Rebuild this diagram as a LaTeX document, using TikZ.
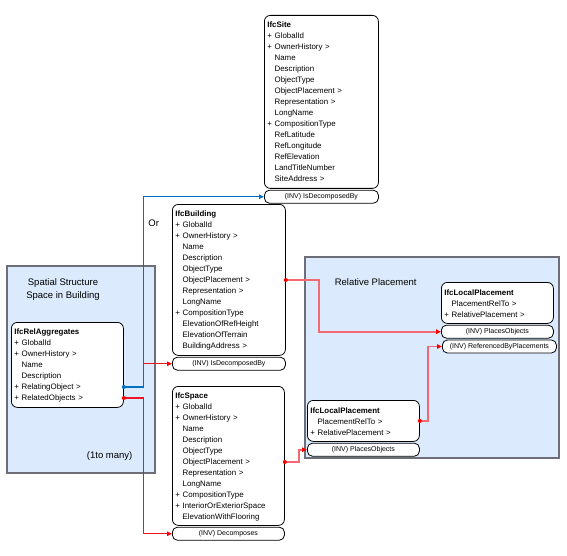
\documentclass[tikz,border=0pt]{standalone}
\usepackage{fontspec}
\setmainfont{Liberation Sans}
\usetikzlibrary{arrows.meta,positioning}

\definecolor{zonefill}{RGB}{219,234,252}
\definecolor{zoneline}{RGB}{110,110,120}
\definecolor{linkred}{RGB}{240,20,30}
\definecolor{linkpink}{RGB}{242,105,115}
\definecolor{linkblue}{RGB}{0,112,192}

\newcommand{\ind}{\phantom{+ }}

\tikzset{
  ent/.style={draw, line width=0.8pt, rounded corners=6pt, fill=white, anchor=north west, align=left,
    inner xsep=3pt, inner ysep=0pt, text height=12pt,
    font=\fontsize{7.9}{11}\selectfont},
  inv/.style={draw, line width=0.8pt, rounded corners=5pt, fill=white, anchor=north west, inner sep=0pt,
    minimum height=13pt, font=\fontsize{7}{8}\selectfont},
  zone/.style={draw=zoneline, line width=1.2pt, fill=zonefill},
  lbl/.style={font=\fontsize{9.5}{13}\selectfont, align=center},
  tip/.style={-{Triangle[length=5pt,width=4.5pt,color=red]}},
  rel/.style={draw=linkred, line width=1.2pt, tip},
  plc/.style={draw=linkpink, line width=1.7pt, tip},
  blueln/.style={draw=linkblue, line width=1.2pt, -{Triangle[length=5pt,width=4.5pt]}}
}

\begin{document}
\begin{tikzpicture}[x=1pt, y=-1pt]
    \useasboundingbox (0,0) rectangle (567,556);

    % grouping areas
    \draw[zone] (7,266) rectangle (155,473);
    \draw[zone] (305,257) rectangle (559,458);
    \node[lbl] (spatial) at (63,289.5) { Spatial Structure\\Space in Building };
    \node[lbl] (relplace) at (377,282) { Relative Placement };
    \node[lbl] (ortext) at (155,223) { Or };
    \node[lbl] (many) at (111,456) { (1to many) };

    % entities
    \node[ent, text width=108pt, text depth=161pt] (site) at (264,15) {
        \textbf{IfcSite}\\
        + GlobalId\\
        + OwnerHistory >\\
        \ind Name\\
        \ind Description\\
        \ind ObjectType\\
        \ind ObjectPlacement >\\
        \ind Representation >\\
        \ind LongName\\
        + CompositionType\\
        \ind RefLatitude\\
        \ind RefLongitude\\
        \ind RefElevation\\
        \ind LandTitleNumber\\
        \ind SiteAddress > };
    \node[inv, minimum width=114pt] (siteinv) at ([yshift=-1]site.south west) { (INV) IsDecomposedBy };

    \node[ent, text width=107pt, text depth=139pt] (bldg) at (172,204) {
        \textbf{IfcBuilding}\\
        + GlobalId\\
        + OwnerHistory >\\
        \ind Name\\
        \ind Description\\
        \ind ObjectType\\
        \ind ObjectPlacement >\\
        \ind Representation >\\
        \ind LongName\\
        + CompositionType\\
        \ind ElevationOfRefHeight\\
        \ind ElevationOfTerrain\\
        \ind BuildingAddress > };
    \node[inv, minimum width=113pt] (bldginv) at ([yshift=-1]bldg.south west) { (INV) IsDecomposedBy };

    \node[ent, text width=106pt, text depth=127pt] (space) at (172,386) {
        \textbf{IfcSpace}\\
        + GlobalId\\
        + OwnerHistory >\\
        \ind Name\\
        \ind Description\\
        \ind ObjectType\\
        \ind ObjectPlacement >\\
        \ind Representation >\\
        \ind LongName\\
        + CompositionType\\
        + InteriorOrExteriorSpace\\
        \ind ElevationWithFlooring };
    \node[inv, minimum width=112pt] (spaceinv) at ([yshift=-1]space.south west) { (INV) Decomposes };

    \node[ent, text width=106pt, text depth=73pt] (rel) at (11,322) {
        \textbf{IfcRelAggregates}\\
        + GlobalId\\
        + OwnerHistory >\\
        \ind Name\\
        \ind Description\\
        + RelatingObject >\\
        + RelatedObjects > };

    \node[ent, text width=106pt, text height=13pt, text depth=28pt] (lp1) at (441,282) {
        \textbf{IfcLocalPlacement}\\
        \ind PlacementRelTo >\\
        + RelativePlacement > };
    \node[inv, minimum width=112pt] (lp1inv) at ([yshift=-1]lp1.south west) { (INV) PlacesObjects };
    \node[inv, minimum width=114pt] (lp1ref) at ([xshift=1, yshift=-1]lp1inv.south west) { (INV) ReferencedByPlacements };

    \node[ent, text width=106pt, text height=13pt, text depth=28pt] (lp2) at (307,400) {
        \textbf{IfcLocalPlacement}\\
        \ind PlacementRelTo >\\
        + RelativePlacement > };
    \node[inv, minimum width=112pt] (lp2inv) at ([yshift=-1]lp2.south west) { (INV) PlacesObjects };

    % connector start points
    \coordinate (relto) at ([yshift=-65]rel.north east);
    \coordinate (relobjs) at ([yshift=-76]rel.north east);
    \coordinate (bldgop) at ([yshift=-76]bldg.north east);
    \coordinate (spaceop) at ([yshift=-76]space.north east);

    \draw[rel] (relto) -- ++(20,0) |- (bldginv.west);
    \draw[rel] (relobjs) -- ++(20,0) |- (spaceinv.west);
    \draw[blueln] (relto) -- ++(20,0) |- (siteinv.west);
    \draw[plc] (bldgop) -- ++(33,0) |- (lp1inv.west);
    \draw[plc] (spaceop) -- ++(14,0) |- (lp2inv.west);
    \draw[plc] (lp2.east) -- ++(8,0) |- (lp1ref.west);

    \fill[linkblue] (relto) circle (2pt);
    \fill[red] (relobjs) circle (2pt);
    \fill[red] (bldgop) circle (2pt);
    \fill[red] (spaceop) circle (2pt);
    \fill[red] (lp2.east) circle (2pt);

\end{tikzpicture}
\end{document}
